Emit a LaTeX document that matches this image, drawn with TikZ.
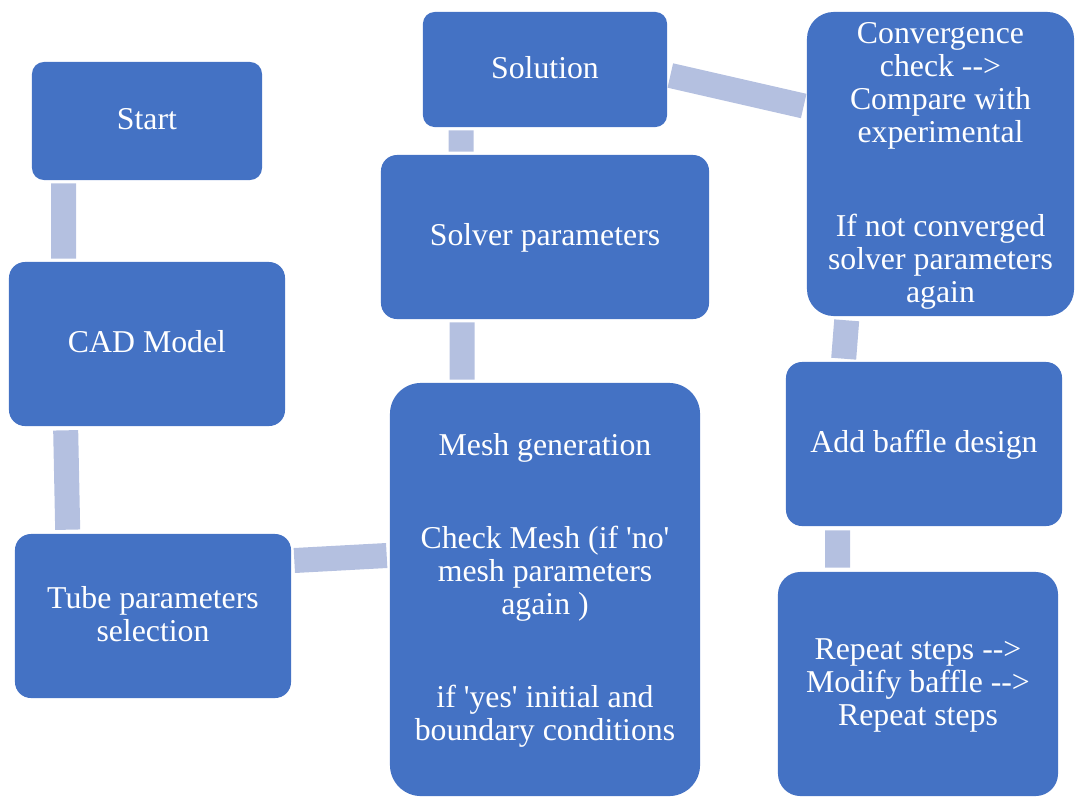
\documentclass[tikz,border=0pt]{standalone}
\usepackage{fontspec}
\setmainfont{Liberation Serif}[Ligatures=TeXOff]
\usetikzlibrary{calc}
\definecolor{boxblue}{HTML}{4472C4}
\definecolor{linkblue}{HTML}{B4C0E0}
\newcommand\lnup{\rule[-5pt]{0pt}{22.6pt}} % feste Zeilenhoehe oben
\newcommand\lndn{\rule[-5pt]{0pt}{5pt}}    % feste Zeilentiefe unten
\tikzset{
  box/.style={fill=boxblue, text=white, align=center, inner sep=0pt,
              font=\fontsize{22.6}{23.5}\selectfont},
  link/.style={draw=linkblue, line width=0.625cm},
}
\begin{document}
\begin{tikzpicture}[x=0.025cm,y=-0.025cm]
    \useasboundingbox (0,0) rectangle (1075,796); %Rahmen
    % Kaesten
    \node[box, minimum width=5.75cm, minimum height=2.95cm, rounded corners=0.3cm] (start) at (147,121) {\lnup Start};
    \node[box, minimum width=6.9cm, minimum height=4.1cm, rounded corners=0.4cm] (cad) at (147,344) {\lnup CAD Model};
    \node[box, minimum width=6.9cm, minimum height=4.1cm, rounded corners=0.4cm] (tube) at (153,616) {\lnup Tube parameters\\selection\lndn};
    \node[box, minimum width=7.75cm, minimum height=10.325cm, rounded corners=0.775cm] (mesh) at (545,589.5)
          {\lnup Mesh generation\\[42.5pt]Check Mesh (if 'no'\\mesh parameters\\again )\\[42.5pt]if 'yes' initial and\\boundary conditions\lndn};
    \node[box, minimum width=8.2cm, minimum height=4.1cm, rounded corners=0.4cm] (solver) at (545,237) {\lnup Solver parameters};
    \node[box, minimum width=6.1cm, minimum height=2.875cm, rounded corners=0.29cm] (solution) at (545,69.5) {\lnup Solution};
    \node[box, minimum width=6.675cm, minimum height=7.6cm, rounded corners=0.67cm] (conv) at (940.5,164)
          {\lnup Convergence\\check -->\\Compare with\\experimental\\[43pt]If not converged\\solver parameters\\again\lndn};
    \node[box, minimum width=6.9cm, minimum height=4.1cm, rounded corners=0.4cm] (baffle) at (924,444) {\lnup Add baffle design};
    \node[box, minimum width=7cm, minimum height=5.6cm, rounded corners=0.56cm] (repeat) at (918,684)
          {\lnup Repeat steps -->\\Modify baffle -->\\Repeat steps\lndn};
    % Verbindungen
    \draw[link] ($(start.south west)+(32,3)$) -- ($(cad.north west)+(55,-3)$);
    \draw[link] ($(cad.south west)+(57,4)$) -- ($(tube.north west)+(53,-4)$);
    \draw[link] ($(tube.east)+(3,-55.5)$) -- ($(mesh.west)+(-3,-34)$);
    \draw[link] ($(mesh.north west)+(72.5,-3)$) -- ($(solver.south west)+(81.5,3)$);
    \draw[link] ($(solver.north west)+(80.5,-3)$) -- ($(solution.south west)+(38.5,3)$);
    \draw[link] ($(solution.east)+(3,6)$) -- ($(conv.west)+(-3,-58)$);
    \draw[link] ($(conv.south west)+(40,4)$) -- ($(baffle.north west)+(58,-3)$);
    \draw[link] ($(baffle.south west)+(52,4)$) -- ($(repeat.north west)+(60,-4)$);
\end{tikzpicture}
\end{document}
